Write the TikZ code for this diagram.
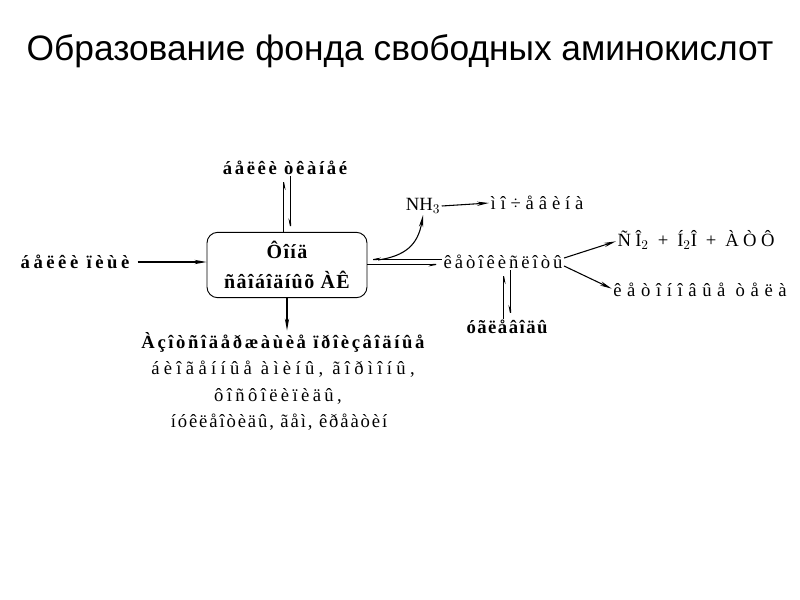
\documentclass[tikz,border=0pt]{standalone}
\usepackage{fontspec}
\setmainfont{Liberation Serif}
\newfontfamily\titlefont{Liberation Sans}
\usetikzlibrary{arrows.meta,calc}
\begin{document}
\begin{tikzpicture}[x=0.75pt,y=-0.75pt,
  tl/.style={inner sep=1pt,font={\fontsize{14}{17}\selectfont\addfontfeature{LetterSpace=#1}}},
  tb/.style={inner sep=1pt,font={\fontsize{14}{17}\selectfont\bfseries\addfontfeature{LetterSpace=#1}}},
  arr/.style={-{Stealth[length=9pt,width=3.2pt]},line width=0.8pt},
  harpr/.style={-{Stealth[length=8pt,width=3pt,harpoon,swap]},line width=0.8pt},
  fondbox/.style={draw,rounded corners=8pt,minimum width=120pt,minimum height=49pt,line width=0.7pt,align=center,
    font={\fontsize{15}{22}\selectfont\bfseries\addfontfeature{LetterSpace=7}}}]
\useasboundingbox (0,0) rectangle (800,600);
\node[font=\titlefont\fontsize{26.5}{30}\selectfont] (title) at (400,51) {Образование фонда свободных аминокислот};
\node[fondbox] (fond) at (287,265) {Ôîíä\\ñâîáîäíûõ ÀÊ};
\node[tb=14] (tk) at (285,168) {áåëêè òêàíåé};
\node[tb=19] (food) at (75,262) {áåëêè ïèùè};
\node[tl=0] (nh3) at (423,206) {NH$_3$};
\node[tl=26] (urea) at (537,203) {ìî÷åâèíà};
\node[tl=16] (keto) at (503,262) {êåòîêèñëîòû};
\node[tl=23] (co2) at (696,240) {ÑÎ$_2$ + Í$_2$Î + ÀÒÔ};
\node[tl=30] (ketone) at (700,290) {êåòîíîâûå òåëà};
\node[tb=8] (carb) at (507,327) {óãëåâîäû};
\node[tb=14] (azot) at (283,342) {Àçîòñîäåðæàùèå ïðîèçâîäíûå};
\node[tl=23] (l1) at (283,369) {áèîãåííûå àìèíû, ãîðìîíû,};
\node[tl=18] (l2) at (278,396) {ôîñôîëèïèäû,};
\node[tl=10] (l3) at (279,422) {íóêëåîòèäû, ãåì, êðåàòèí};
% arrows
\draw[arr] (food.east) ++(5pt,0) coordinate (f0) -- (fond.west |- f0);
\draw[harpr] ([xshift=-2.6pt]fond.north) -- ([xshift=-2.6pt]fond.north |- tk.south);
\draw[harpr] ([xshift=2.6pt]fond.north |- tk.south) -- ([xshift=2.6pt]fond.north);
\draw[harpr] ([yshift=1.8pt]keto.west) -- ([yshift=1.8pt]fond.east |- keto.west);
\draw[harpr] ([yshift=-1.8pt]fond.east |- keto.west) -- ([yshift=-1.8pt]keto.west);
\coordinate (c0) at (378,260);
\draw[arr] (c0) .. controls (405,256) and (418,245) .. (nh3.south);
\draw[arr] (nh3.east) -- (urea.west);
\draw[arr] ([yshift=3pt]keto.east) -- ([yshift=-1pt]co2.west);
\draw[arr] ([yshift=-3pt]keto.east) -- ([yshift=1pt]ketone.west);
\draw[harpr] ([xshift=-2.6pt]carb.north) -- ([xshift=-2.6pt]carb.north |- keto.south);
\draw[harpr] ([xshift=2.6pt]carb.north |- keto.south) -- ([xshift=2.6pt]carb.north);
\draw[arr] (fond.south) -- (fond.south |- azot.north);
\end{tikzpicture}
\end{document}
